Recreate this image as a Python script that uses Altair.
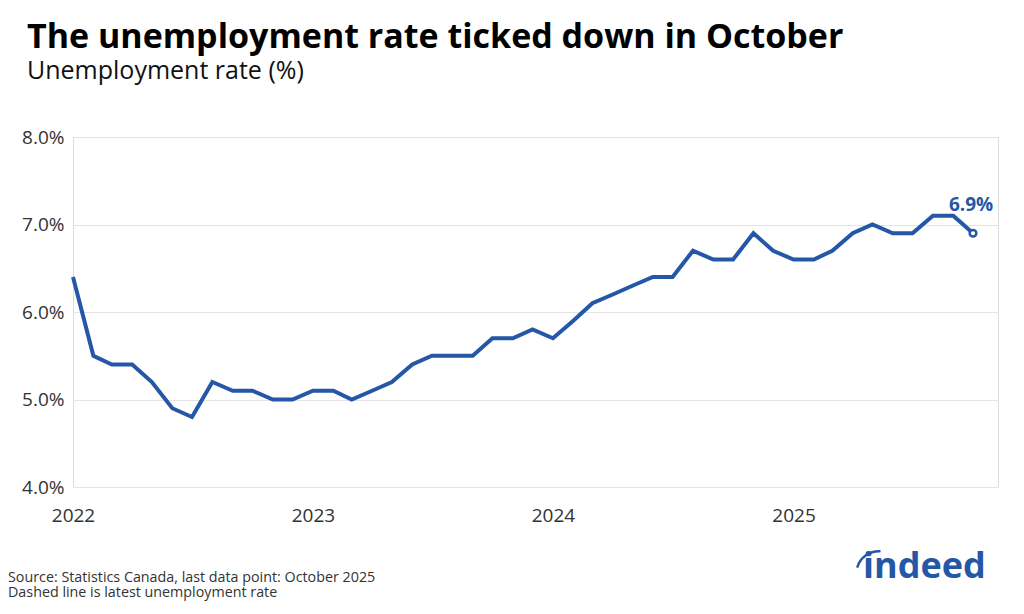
import altair as alt
import pandas as pd

# ---- data ----
years = [2022, 2023, 2024, 2025]
rates = [
    6.4, 5.5, 5.4, 5.4, 5.2, 4.9, 4.8, 5.2, 5.1, 5.1, 5.0, 5.0,   # 2022
    5.1, 5.1, 5.0, 5.1, 5.2, 5.4, 5.5, 5.5, 5.5, 5.7, 5.7, 5.8,   # 2023
    5.7, 5.9, 6.1, 6.2, 6.3, 6.4, 6.4, 6.7, 6.6, 6.6, 6.9, 6.7,   # 2024
    6.6, 6.6, 6.7, 6.9, 7.0, 6.9, 6.9, 7.1, 7.1, 6.9,             # 2025 (Jan-Oct)
]
months = [f"{y}-{m:02d}-01T00:00:00" for y in years for m in range(1, 13)][: len(rates)]
y_ticks = [4, 5, 6, 7, 8]

title = "The unemployment rate ticked down in October"
subtitle = "Unemployment rate (%)"
source_lines = ["Source: Statistics Canada, last data point: October 2025",
                "Dashed line is latest unemployment rate"]

df = pd.DataFrame({"date": months, "rate": rates})
last = df.tail(1).copy()
last["label"] = last["rate"].map(lambda v: f"{v:.1f}%")

BLUE = "#2557a7"
FONT = "Open Sans"
W, H = 925, 350

x_enc = alt.X(
    "date:T",
    scale=alt.Scale(domain=[alt.DateTime(year=2022, month=1, date=1),
                            alt.DateTime(year=2025, month=11, date=8)]),
    axis=alt.Axis(
        values=[alt.DateTime(year=y, month=1, date=1) for y in years],
        format="%Y", title=None, grid=False, domain=False, ticks=False,
        labelFontSize=19, labelColor="#333333", labelFont=FONT,
        labelPadding=19, labelFlush=False,
    ),
)
y_enc = alt.Y(
    "rate:Q",
    scale=alt.Scale(domain=[4, 8], nice=False, zero=False),
    axis=alt.Axis(
        values=y_ticks, labelExpr="format(datum.value, '.1f') + '%'",
        title=None, domain=False, ticks=False, grid=True,
        gridColor="#e3e3e3", gridWidth=1,
        labelFontSize=19, labelColor="#333333", labelFont=FONT, labelPadding=9,
    ),
)

line = alt.Chart(df).mark_line(color=BLUE, strokeWidth=4).encode(x=x_enc, y=y_enc)

pt = alt.Chart(last).mark_point(
    shape="circle", size=45, filled=True, fill="white", stroke=BLUE,
    strokeWidth=2.5, opacity=1,
).encode(x="date:T", y="rate:Q")

lbl = alt.Chart(last).mark_text(
    color=BLUE, font=FONT, fontSize=19, fontWeight="bold",
    align="center", baseline="alphabetic", dx=-2, dy=-22,
).encode(x="date:T", y="rate:Q", text="label:N")

def txt(s, x, y, size, weight="normal", color="#000000", align="left"):
    return alt.Chart(pd.DataFrame({"t": [s]})).mark_text(
        font=FONT, fontSize=size, fontWeight=weight, color=color,
        align=align, baseline="alphabetic",
    ).encode(x=alt.value(x), y=alt.value(y), text="t:N")

t_title = txt(title, -46, -89, 34, "bold")
t_sub = txt(subtitle, -46, -58, 25, "normal", "#111111")
t_src1 = txt(source_lines[0], -65, 445, 14.3, "normal", "#333333")
t_src2 = txt(source_lines[1], -65, 460, 14.3, "normal", "#333333")
t_logo = txt("indeed", 790, 441, 36, "bold", BLUE)

swoosh = alt.Chart(pd.DataFrame({"a": [1]})).mark_arc(
    color=BLUE, radius=24, radius2=21.5, theta=5.0, theta2=6.35,
).encode(x=alt.value(806), y=alt.value(437))

chart = alt.layer(
    line, pt, lbl, t_title, t_sub, t_src1, t_src2, t_logo, swoosh
).properties(
    width=W, height=H,
    autosize=alt.AutoSizeParams(type="none"),
    padding={"left": 65, "top": 129, "right": 18, "bottom": 119},
).configure_view(stroke=None).configure(background="white")

chart.save("out.html", embed_options={"renderer": "svg", "actions": False})
